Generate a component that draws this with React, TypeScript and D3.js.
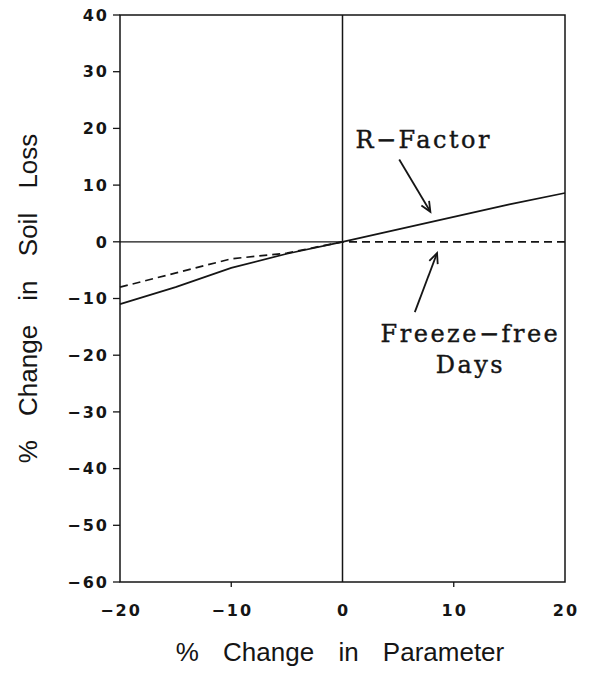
import React from "react";
import * as d3 from "d3";

const xTicks = [-20, -10, 0, 10, 20];
const yTicks = [40, 30, 20, 10, 0, -10, -20, -30, -40, -50, -60];
const rFactorX = [-20, -15, -10, -5, 0, 5, 10, 15, 20];
const rFactorY = [-11.0, -8.0, -4.6, -2.1, 0, 2.2, 4.4, 6.6, 8.6];
const freezeX = [-20, -10, -5, 0, 5, 10, 15, 20];
const freezeY = [-8.0, -3.0, -2.0, 0, 0, 0, 0, 0];

const W = 592, H = 679;
const left = 120, right = 565, top = 15, bottom = 582;

export default function App() {
  const x = d3.scaleLinear().domain([-20, 20]).range([left, right]);
  const y = d3.scaleLinear().domain([-60, 40]).range([bottom, top]);
  const line = d3.line<[number, number]>().x(d => x(d[0])).y(d => y(d[1]));
  const rData = rFactorX.map((v, i) => [v, rFactorY[i]] as [number, number]);
  const fData = freezeX.map((v, i) => [v, freezeY[i]] as [number, number]);
  const ink = "#151515";
  const tickFont = "'DejaVu Sans', sans-serif";
  const labFont = "'Liberation Sans', Arial, sans-serif";
  const serif = "'DejaVu Serif', serif";
  const fmt = (t: number) => (t < 0 ? "−" + Math.abs(t) : String(t));

  const arrow = (x1: number, y1: number, x2: number, y2: number, key: string) => {
    const px1 = x(x1), py1 = y(y1), px2 = x(x2), py2 = y(y2);
    const ang = Math.atan2(py2 - py1, px2 - px1);
    const L = 11, a = 0.42;
    const h1 = [px2 - L * Math.cos(ang - a), py2 - L * Math.sin(ang - a)];
    const h2 = [px2 - L * Math.cos(ang + a), py2 - L * Math.sin(ang + a)];
    return (
      <g key={key} stroke={ink} strokeWidth={1.8} fill="none">
        <line x1={px1} y1={py1} x2={px2} y2={py2} />
        <polyline points={`${h1[0]},${h1[1]} ${px2},${py2} ${h2[0]},${h2[1]}`} />
      </g>
    );
  };

  const annStyle = { fontFamily: serif, fontSize: 24, letterSpacing: 2.5, fill: ink, stroke: ink, strokeWidth: 0.4 };

  return (
    <svg width={W} height={H} style={{ position: "absolute", left: 0, top: 0, background: "#fff" }}>
      <rect x={0} y={0} width={W} height={H} fill="#fff" />
      {/* frame */}
      <rect x={left} y={top} width={right - left} height={bottom - top} fill="none" stroke={ink} strokeWidth={1.5} />
      {/* zero lines */}
      <line x1={x(0)} x2={x(0)} y1={top} y2={bottom} stroke={ink} strokeWidth={1.5} />
      <line x1={x(-20)} x2={x(0)} y1={y(0)} y2={y(0)} stroke={ink} strokeWidth={1.3} />
      {/* y ticks */}
      {yTicks.map(t => (
        <g key={"y" + t}>
          <line x1={left - 7} x2={left} y1={y(t)} y2={y(t)} stroke={ink} strokeWidth={1.3} />
          <text x={109} y={y(t)} dy="0.36em" textAnchor="end" fontFamily={tickFont} fontWeight="bold"
            fontSize={16} letterSpacing={2} fill={ink}>{fmt(t)}</text>
        </g>
      ))}
      {/* x ticks */}
      {xTicks.map(t => (
        <g key={"x" + t}>
          {t !== -20 && t !== 20 && t !== 0 && (
            <line x1={x(t)} x2={x(t)} y1={bottom} y2={bottom + 5} stroke={ink} strokeWidth={1.3} />
          )}
          <text x={x(t) + 1} y={616} textAnchor="middle" fontFamily={tickFont} fontWeight="bold"
            fontSize={16} letterSpacing={2} fill={ink}>{fmt(t)}</text>
        </g>
      ))}
      {/* series */}
      <path d={line(rData) || ""} fill="none" stroke={ink} strokeWidth={1.7} />
      <path d={line(fData) || ""} fill="none" stroke={ink} strokeWidth={1.7} strokeDasharray="8,5" />
      {/* annotations */}
      <text x={x(7.3)} y={y(16.6)} textAnchor="middle" {...annStyle}>R−Factor</text>
      {arrow(5.1, 14.5, 7.9, 5.3, "a1")}
      <text x={x(11.5)} y={y(-17.7)} textAnchor="middle" {...annStyle}>Freeze−free</text>
      <text x={x(11.5)} y={y(-23.1)} textAnchor="middle" {...annStyle}>Days</text>
      {arrow(6.5, -12.4, 8.5, -2.0, "a2")}
      {/* axis titles */}
      <text x={340} y={661} textAnchor="middle" fontFamily={labFont} fontSize={26} wordSpacing={17} fill={ink}>% Change in Parameter</text>
      <text transform={`translate(37,${(top + bottom) / 2}) rotate(-90)`} textAnchor="middle" fontFamily={labFont}
        fontSize={26} wordSpacing={17} fill={ink}>% Change in Soil Loss</text>
    </svg>
  );
}
